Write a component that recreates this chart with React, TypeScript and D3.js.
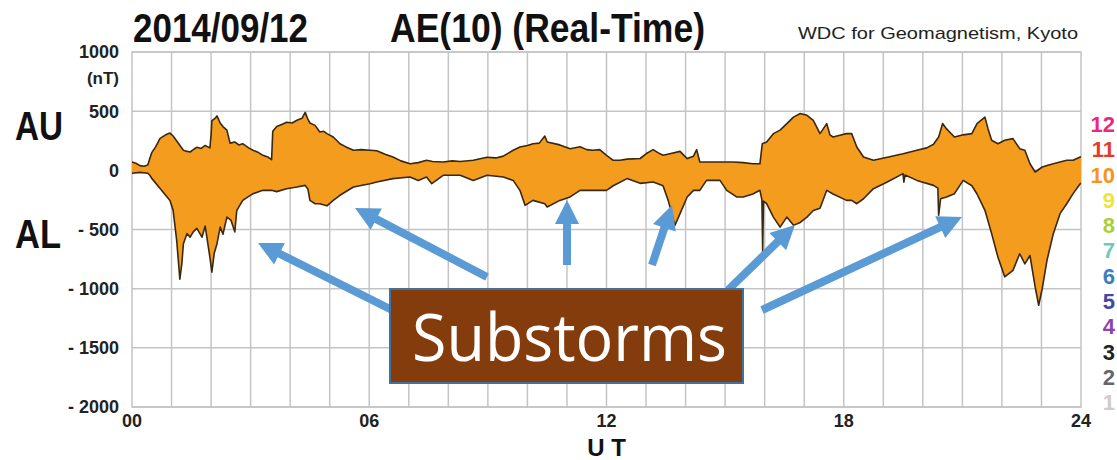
import React from "react";
import * as d3 from "d3";

// ---- data ----
const auHours = [0,0.1,0.2,0.3,0.4,0.45,0.5,0.6,0.71,0.85,0.96,1.04,1.15,1.3,1.4,1.47,1.55,1.64,1.75,1.85,1.97,2.0,2.02,2.1,2.15,2.23,2.3,2.4,2.48,2.6,2.7,2.8,2.95,3.06,3.2,3.31,3.45,3.53,3.56,3.66,3.8,3.91,4.05,4.17,4.3,4.38,4.45,4.5,4.63,4.75,4.85,4.93,5.09,5.26,5.4,5.6,5.8,6.02,6.19,6.4,6.6,6.8,7.03,7.24,7.45,7.6,7.87,8.1,8.3,8.63,8.98,9.2,9.39,9.64,9.81,10.0,10.14,10.3,10.44,10.5,10.82,11.08,11.33,11.5,11.66,11.83,12.0,12.17,12.34,12.52,12.85,13.0,13.18,13.3,13.43,13.6,13.86,14.04,14.2,14.28,14.36,14.6,14.87,15.2,15.46,15.7,15.88,15.94,16.05,16.22,16.39,16.56,16.73,16.9,17.07,17.23,17.4,17.57,17.65,17.73,17.9,18.07,18.2,18.33,18.5,18.75,19.1,19.5,19.85,20.1,20.27,20.4,20.5,20.6,20.8,21.02,21.24,21.37,21.57,21.65,21.74,21.9,22.07,22.28,22.45,22.58,22.71,22.84,23.02,23.14,23.3,23.47,23.64,23.8,23.98,24.0];
const auValues = [70,60,40,35,45,100,150,200,270,300,315,290,240,170,160,155,175,195,185,210,190,300,420,440,460,400,370,340,230,240,215,225,190,170,150,127,110,90,330,370,390,406,400,423,440,490,430,400,380,324,330,310,282,225,200,170,175,170,165,135,113,80,56,65,85,75,70,80,75,85,110,105,120,170,197,210,225,230,290,240,215,183,200,175,170,175,127,85,85,95,100,140,175,150,127,140,160,99,120,175,70,70,70,70,65,56,55,225,240,310,340,395,450,480,465,423,310,395,300,282,296,310,310,197,113,85,110,140,170,190,220,282,395,350,282,300,310,395,450,350,254,225,254,268,183,170,56,-14,28,40,56,70,85,85,113,115];

const alHours = [0,0.2,0.4,0.45,0.5,0.7,0.85,0.96,1.04,1.13,1.21,1.26,1.3,1.39,1.47,1.55,1.64,1.77,1.85,1.97,2.02,2.08,2.15,2.23,2.3,2.4,2.5,2.6,2.65,2.8,3.06,3.31,3.53,3.66,3.91,4.17,4.38,4.45,4.5,4.63,4.75,4.93,5.09,5.26,5.6,6.02,6.19,6.6,7.03,7.24,7.45,7.58,7.87,8.3,8.63,8.98,9.39,9.64,9.81,9.94,10.14,10.44,10.5,10.82,11.08,11.33,11.66,12.0,12.17,12.52,12.85,13.18,13.43,13.56,13.73,13.86,14.04,14.2,14.36,14.53,14.87,15.04,15.29,15.46,15.7,15.88,15.93,15.95,15.97,16.05,16.22,16.39,16.56,16.73,16.9,17.07,17.23,17.4,17.57,17.73,18.07,18.2,18.33,18.5,18.75,19.1,19.5,19.52,19.55,19.85,20.27,20.38,20.4,20.45,20.6,20.8,21.02,21.24,21.37,21.57,21.74,21.9,22.07,22.28,22.45,22.58,22.71,22.84,22.93,23.02,23.14,23.3,23.47,23.64,23.8,23.98,24.0];
const alValues = [-25,-17,-25,-42,-68,-150,-210,-254,-338,-592,-920,-790,-620,-535,-565,-520,-490,-565,-470,-735,-860,-700,-620,-480,-540,-395,-420,-520,-338,-254,-197,-169,-169,-180,-155,-141,-127,-160,-254,-282,-282,-300,-254,-211,-141,-113,-99,-70,-56,-85,-56,-113,-42,-42,-85,-42,-56,-85,-169,-296,-254,-282,-310,-254,-225,-169,-169,-169,-130,-70,-110,-99,-130,-254,-465,-366,-225,-169,-169,-85,-85,-169,-225,-225,-200,-169,-250,-690,-260,-282,-395,-480,-395,-465,-440,-395,-340,-320,-169,-200,-254,-254,-282,-240,-155,-99,-28,-100,-40,-85,-127,-150,-380,-240,-225,-197,-85,-130,-200,-338,-535,-735,-900,-845,-705,-790,-720,-985,-1140,-1000,-760,-535,-366,-282,-197,-113,-110];

const yTicks = [1000, 500, 0, -500, -1000, -1500, -2000];
const yTickLabels = ["1000", "500", "0", "- 500", "- 1000", "- 1500", "- 2000"];
const xTicks = [0, 6, 12, 18, 24];
const xTickLabels = ["00", "06", "12", "18", "24"];
const hourGrid = d3.range(1, 24);

const legendLabels = ["12", "11", "10", "9", "8", "7", "6", "5", "4", "3", "2", "1"];
const legendColors = ["#e8297e", "#e63a2a", "#f7941d", "#f2e33a", "#a8cf3a", "#6ccbb8", "#3c7dc4", "#3f4aa0", "#8e44ad", "#222222", "#666666", "#cccccc"];

// annotation arrows [x1, y1, x2, y2] (screen pixels, annotation layer)
const arrows = [
  [392, 310, 258, 243],
  [487, 277, 355, 208],
  [567, 265, 567, 200],
  [652, 265, 672, 205],
  [728, 290, 795, 225],
  [762, 310, 962, 217],
];

function arrowPolygon(x1: number, y1: number, x2: number, y2: number) {
  const dx = x2 - x1, dy = y2 - y1;
  const len = Math.hypot(dx, dy);
  const ux = dx / len, uy = dy / len;
  const px = -uy, py = ux;
  const hl = 24, hw = 12, sw = 4;
  const bx = x2 - ux * hl, by = y2 - uy * hl;
  const pts = [
    [x1 + px * sw, y1 + py * sw],
    [bx + px * sw, by + py * sw],
    [bx + px * hw, by + py * hw],
    [x2, y2],
    [bx - px * hw, by - py * hw],
    [bx - px * sw, by - py * sw],
    [x1 - px * sw, y1 - py * sw],
  ];
  return pts.map((p) => p.join(",")).join(" ");
}

export default function App() {
  const W = 1117, H = 460;
  const left = 132, right = 1081, top = 52, bottom = 407;
  const x = d3.scaleLinear().domain([0, 24]).range([left, right]);
  const y = d3.scaleLinear().domain([-2000, 1000]).range([bottom, top]);

  const au: [number, number][] = auHours.map((h, i) => [x(h), y(auValues[i])]);
  const al: [number, number][] = alHours.map((h, i) => [x(h), y(alValues[i])]);
  const line = d3.line<[number, number]>();
  const bandPath = line([...au, ...al.slice().reverse()]) + "Z";

  const bold = "'Liberation Sans', Arial, Helvetica, sans-serif";
  const grid = "#c4c4c4";

  return (
    <svg width={W} height={H} style={{ position: "absolute", left: 0, top: 0, background: "#fff" }}>
      <rect x={0} y={0} width={W} height={H} fill="#fff" />
      {/* grid */}
      {hourGrid.map((h) => (
        <line key={"v" + h} x1={x(h)} x2={x(h)} y1={top} y2={bottom} stroke={grid} strokeWidth={1.5} />
      ))}
      {yTicks.map((v) => (
        <line key={"h" + v} x1={left} x2={right} y1={y(v)} y2={y(v)} stroke={grid} strokeWidth={1.5} />
      ))}
      <rect x={left} y={top} width={right - left} height={bottom - top} fill="none" stroke={grid} strokeWidth={1.5} />

      {/* AU / AL band */}
      <path d={bandPath} fill="#f39c1e" stroke="none" />
      <path d={line(au) || ""} fill="none" stroke="#3a2810" strokeWidth={1.6} strokeLinejoin="round" />
      <path d={line(al) || ""} fill="none" stroke="#3a2810" strokeWidth={1.6} strokeLinejoin="round" />

      {/* titles */}
      <text x={133} y={42} fontFamily={bold} fontWeight="bold" fontSize={40} textLength={175} lengthAdjust="spacingAndGlyphs" fill="#111">2014/09/12</text>
      <text x={390} y={42} fontFamily={bold} fontWeight="bold" fontSize={40} textLength={315} lengthAdjust="spacingAndGlyphs" fill="#111">AE(10) (Real-Time)</text>
      <text x={798} y={39} fontFamily={bold} fontSize={17} textLength={280} lengthAdjust="spacingAndGlyphs" fill="#222">WDC for Geomagnetism, Kyoto</text>

      {/* y tick labels */}
      {yTicks.map((v, i) => (
        <text key={"yl" + v} x={119} y={y(v)} dy="0.36em" textAnchor="end" fontFamily={bold} fontWeight="bold" fontSize={18} fill="#222">{yTickLabels[i]}</text>
      ))}
      <text x={119} y={78} dy="0.36em" textAnchor="end" fontFamily={bold} fontWeight="bold" fontSize={17} fill="#222">(nT)</text>

      <text x={15} y={140} fontFamily={bold} fontWeight="bold" fontSize={41} textLength={48} lengthAdjust="spacingAndGlyphs" fill="#111">AU</text>
      <text x={15} y={248} fontFamily={bold} fontWeight="bold" fontSize={41} textLength={46} lengthAdjust="spacingAndGlyphs" fill="#111">AL</text>

      {/* x tick labels */}
      {xTicks.map((h, i) => (
        <text key={"xl" + h} x={x(h)} y={421} dy="0.36em" textAnchor="middle" fontFamily={bold} fontWeight="bold" fontSize={18} fill="#222">{xTickLabels[i]}</text>
      ))}
      <text x={x(12)} y={456} textAnchor="middle" fontFamily={bold} fontWeight="bold" fontSize={24} fill="#111">U T</text>

      {/* right legend numbers */}
      {legendLabels.map((s, i) => (
        <text key={"lg" + s} x={1115} y={124 + i * 25.3} dy="0.36em" textAnchor="end" fontFamily={bold} fontWeight="bold" fontSize={22} fill={legendColors[i]}>{s}</text>
      ))}

      {/* annotation arrows */}
      {arrows.map((a, i) => (
        <polygon key={"ar" + i} points={arrowPolygon(a[0], a[1], a[2], a[3])} fill="#5b9bd5" />
      ))}

      {/* Substorms box */}
      <rect x={390} y={289} width={353} height={94} fill="#843c0c" stroke="#41719c" strokeWidth={2} />
      <text x={412} y={361} fontFamily="'Open Sans', 'Noto Sans', sans-serif" fontSize={66} textLength={315} lengthAdjust="spacingAndGlyphs" fill="#fff">Substorms</text>
    </svg>
  );
}
